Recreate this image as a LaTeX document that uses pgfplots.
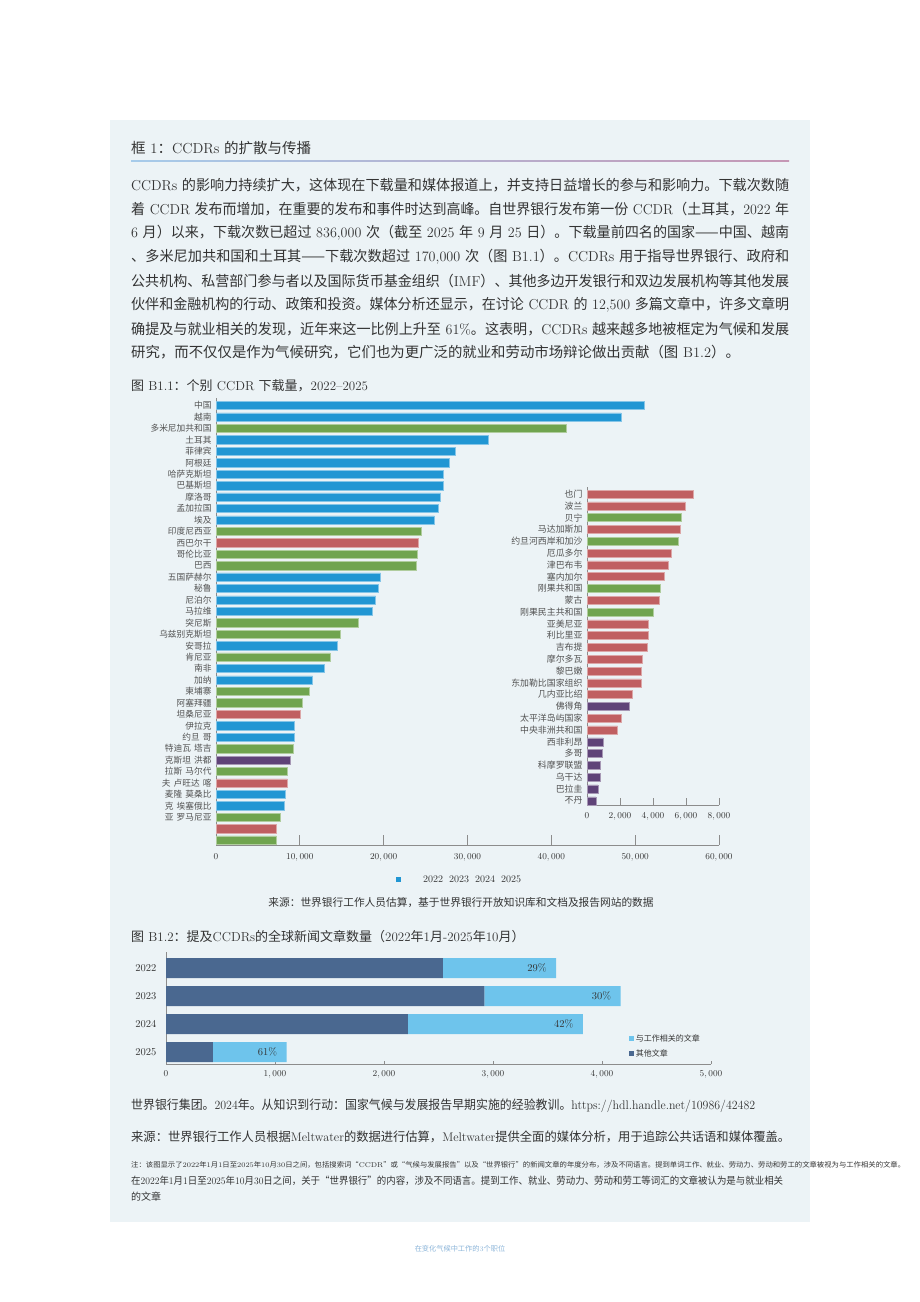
\documentclass[border=0pt]{standalone}
\usepackage{pgfplots}
\pgfplotsset{compat=1.18}
\usepackage{fontspec}
\usepackage{graphicx}
\newfontfamily\cjk{Noto Sans CJK SC}

% Han characters and full-width punctuation switch to the CJK face automatically
\newcount\cjkcode
\def\cjkrange#1#2{\cjkcode=#1\relax
  \loop\XeTeXcharclass\cjkcode=1 \advance\cjkcode by 1
  \ifnum\cjkcode<#2\repeat}
\cjkrange{"4E00}{"A000}
\cjkrange{"3000}{"3040}
\cjkrange{"FF00}{"FF20}
\XeTeXcharclass"2014=1
\XeTeXcharclass"201C=1
\XeTeXcharclass"201D=1
\XeTeXinterchartokenstate=1
\XeTeXinterchartoks 0 1 = {\cjk}
\XeTeXinterchartoks 4095 1 = {\cjk}
\XeTeXinterchartoks 1 0 = {\rmfamily}
\XeTeXinterchartoks 1 4095 = {\rmfamily}

\definecolor{bgbox}{HTML}{ECF3F6}
\definecolor{y22}{HTML}{2196D3}
\definecolor{y23}{HTML}{70A44F}
\definecolor{y24}{HTML}{C05F61}
\definecolor{y25}{HTML}{5F4378}
\definecolor{other}{HTML}{4A6890}
\definecolor{jobs}{HTML}{6EC4EC}
\definecolor{txt}{HTML}{333333}
\definecolor{axisgrey}{HTML}{8C8C8C}
\definecolor{foot}{HTML}{8DB6DA}
\definecolor{rulea}{HTML}{A6CBEA}
\definecolor{ruleb}{HTML}{EBCA9C}
\definecolor{rulec}{HTML}{C597B5}

\newcommand{\fs}[1]{\fontsize{#1}{#1}\selectfont}
\pgfplotsset{thousands/.style={/pgf/number format/fixed, /pgf/number format/1000 sep={{,}}}}

\begin{document}
\begin{tikzpicture}
\path[use as bounding box, fill=white] (0,0) rectangle (920pt,-1302pt);

\begin{scope}[x=1pt,y=-1pt]
  \fill[bgbox] (110,120) rectangle (810,1222);
  \shade[left color=rulea, middle color=ruleb, right color=rulec] (131,160.2) rectangle (789,161.8);
\end{scope}

% ---------------- B1.1: downloads by CCDR ----------------
\begin{axis}[
  at={(216pt,-845pt)}, anchor=south west,
  scale only axis, width=503pt, height=447pt,
  xmin=0, xmax=60000, ymin=0.57, ymax=39.66,
  xbar, bar width=8.3pt, bar shift=0pt,
  axis lines*=left,
  axis line style={draw=axisgrey, line width=0.8pt},
  tick align=inside, major tick length=10pt,
  xtick={0,10000,20000,30000,40000,50000,60000}, scaled x ticks=false,
  x tick style={draw=axisgrey, line width=0.8pt},
  xticklabel style={font=\fs{9.5}, text=txt, yshift=-5pt, thousands},
  ytick={3,...,39}, y tick style={draw=none},
  yticklabels={亚 罗马尼亚,克 埃塞俄比,麦隆 莫桑比,夫 卢旺达 喀,拉斯 马尔代,克斯坦 洪都,特迪瓦 塔吉,约旦 哥,
    伊拉克,坦桑尼亚,阿塞拜疆,柬埔寨,加纳,南非,肯尼亚,安哥拉,乌兹别克斯坦,突尼斯,马拉维,尼泊尔,秘鲁,
    五国萨赫尔,巴西,哥伦比亚,西巴尔干,印度尼西亚,埃及,孟加拉国,摩洛哥,巴基斯坦,哈萨克斯坦,阿根廷,
    菲律宾,土耳其,多米尼加共和国,越南,中国},
  yticklabel style={font=\fs{8.7}, text=txt!85!white, xshift=-1pt},
]
% 2022
\addplot[fill=y22, draw=y22!55!white, line width=0.5pt] coordinates {
  (51100,39) (48320,38) (32500,36) (28550,35) (27830,34) (27140,33) (27100,32)
  (26780,31) (26540,30) (26050,29) (19650,24) (19370,23) (19050,22) (18690,21)
  (14460,18) (12930,16) (11520,15) (9380,11) (9340,10) (8210,5) (8090,4)};
% 2023
\addplot[fill=y23, draw=y23!55!white, line width=0.5pt] coordinates {
  (41720,37) (24520,28) (23960,26) (23920,25) (16910,20) (14780,19) (13610,17)
  (11150,14) (10230,13) (9220,9) (8540,7) (7650,3) (7210,1)};
% 2024
\addplot[fill=y24, draw=y24!55!white, line width=0.5pt] coordinates {
  (24160,27) (10030,12) (8500,6) (7210,2)};
% 2025
\addplot[fill=y25, draw=y25!55!white, line width=0.5pt] coordinates {
  (8860,8)};
\end{axis}

% ---------------- B1.1 inset: smaller CCDRs ----------------
\begin{axis}[
  at={(587pt,-805pt)}, anchor=south west,
  scale only axis, width=132pt, height=318pt,
  xmin=0, xmax=8000, ymin=0.64, ymax=27.6,
  xbar, bar width=8pt, bar shift=0pt,
  axis lines*=left,
  axis line style={draw=axisgrey, line width=0.8pt},
  tick align=inside, major tick length=7pt,
  xtick={0,2000,4000,6000,8000}, scaled x ticks=false,
  x tick style={draw=axisgrey, line width=0.8pt},
  xticklabel style={font=\fs{9.5}, text=txt, yshift=-4pt, thousands},
  ytick={1,...,27}, y tick style={draw=none},
  yticklabels={不丹,巴拉圭,乌干达,科摩罗联盟,多哥,西非利昂,中央非洲共和国,太平洋岛屿国家,佛得角,
    几内亚比绍,东加勒比国家组织,黎巴嫩,摩尔多瓦,吉布提,利比里亚,亚美尼亚,刚果民主共和国,蒙古,
    刚果共和国,塞内加尔,津巴布韦,厄瓜多尔,约旦河西岸和加沙,马达加斯加,贝宁,波兰,也门},
  yticklabel style={font=\fs{8.9}, text=txt!85!white, xshift=-1pt},
]
\addplot[fill=y23, draw=y23!55!white, line width=0.5pt] coordinates {
  (5720,25) (5560,23) (4420,19) (4000,17)};
\addplot[fill=y24, draw=y24!55!white, line width=0.5pt] coordinates {
  (6440,27) (5960,26) (5660,24) (5080,22) (4900,21) (4700,20) (4380,18)
  (3700,16) (3700,15) (3680,14) (3320,13) (3300,12) (3280,11) (2760,10)
  (2060,8) (1860,7)};
\addplot[fill=y25, draw=y25!55!white, line width=0.5pt] coordinates {
  (2560,9) (980,6) (940,5) (780,4) (780,3) (660,2) (540,1)};
\end{axis}

% ---------------- B1.2: news articles mentioning CCDRs ----------------
\begin{axis}[
  at={(166pt,-1064pt)}, anchor=south west,
  scale only axis, width=545pt, height=112pt,
  xmin=0, xmax=5000, ymin=0.571, ymax=4.571,
  xbar stacked, bar width=20pt,
  axis lines*=left,
  axis line style={draw=axisgrey, line width=0.8pt},
  tick align=inside, major tick length=3pt,
  xtick={0,1000,2000,3000,4000,5000}, scaled x ticks=false,
  x tick style={draw=axisgrey, line width=0.8pt},
  xticklabel style={font=\fs{9.5}, text=txt, yshift=-3pt, thousands},
  ytick={1,2,3,4}, yticklabels={2025,2024,2023,2022}, y tick style={draw=none},
  yticklabel style={font=\fs{10.5}, text=txt, xshift=-6pt},
  legend style={at={(0.843,0.30)}, anchor=north west, draw=none, fill=none,
    font=\fs{8}, text=txt, row sep=2.5pt},
  legend cell align=left, reverse legend,
  legend image code/.code={\fill[#1] (0pt,-2.6pt) rectangle (5.2pt,2.6pt);},
]
\addplot[fill=other, draw=none] coordinates {
  (2540,4) (2920,3) (2220,2) (430,1)};
% share labels sit just inside the end of each job-related segment
\addplot[fill=jobs, draw=none,
  visualization depends on={rawx \as \segw},
  nodes near coords, point meta=explicit symbolic,
  nodes near coords style={anchor=east, xshift={0.0545*\segw*1pt-6pt}, font=\fs{10.5}, text=txt}]
  coordinates {(1040,4) [29\%] (1250,3) [30\%] (1605,2) [42\%] (677,1) [61\%]};
\legend{其他文章,与工作相关的文章}
\end{axis}

% ---------------- text ----------------
\begin{scope}[x=1pt,y=-1pt, every node/.style={inner sep=0pt, text=txt}]
  \node[anchor=west, font=\fs{14.5}] at (131,148) {框 1：CCDRs 的扩散与传播};

  \node[anchor=west, font=\fs{14.4}] at (131,185) {\resizebox{658pt}{\height}{CCDRs 的影响力持续扩大，这体现在下载量和媒体报道上，并支持日益增长的参与和影响力。下载次数随}};
  \node[anchor=west, font=\fs{14.4}] at (131,209) {\resizebox{658pt}{\height}{着 CCDR 发布而增加，在重要的发布和事件时达到高峰。自世界银行发布第一份 CCDR（土耳其，2022 年}};
  \node[anchor=west, font=\fs{14.4}] at (131,233) {\resizebox{658pt}{\height}{6 月）以来，下载次数已超过 836,000 次（截至 2025 年 9 月 25 日）。下载量前四名的国家——中国、越南}};
  \node[anchor=west, font=\fs{14.4}] at (131,257) {\resizebox{658pt}{\height}{、多米尼加共和国和土耳其——下载次数超过 170,000 次（图 B1.1）。CCDRs 用于指导世界银行、政府和}};
  \node[anchor=west, font=\fs{14.4}] at (131,281) {\resizebox{658pt}{\height}{公共机构、私营部门参与者以及国际货币基金组织（IMF）、其他多边开发银行和双边发展机构等其他发展}};
  \node[anchor=west, font=\fs{14.4}] at (131,305) {\resizebox{658pt}{\height}{伙伴和金融机构的行动、政策和投资。媒体分析还显示，在讨论 CCDR 的 12,500 多篇文章中，许多文章明}};
  \node[anchor=west, font=\fs{14.4}] at (131,329) {\resizebox{658pt}{\height}{确提及与就业相关的发现，近年来这一比例上升至 61\%。这表明，CCDRs 越来越多地被框定为气候和发展}};
  \node[anchor=west, font=\fs{14.4}] at (131,352) {研究，而不仅仅是作为气候研究，它们也为更广泛的就业和劳动市场辩论做出贡献（图 B1.2）。};

  \node[anchor=west, font=\fs{13}] at (131,386) {图 B1.1：个别 CCDR 下载量，2022–2025};

  % legend of B1.1
  \fill[y22] (395.5,876.5) rectangle (400.5,881.5);
  \node[anchor=west, font=\fs{10}] at (423,879) {2022\hspace{6pt}2023\hspace{6pt}2024\hspace{6pt}2025};
  \node[font=\fs{10.7}] at (461,903) {来源：世界银行工作人员估算，基于世界银行开放知识库和文档及报告网站的数据};

  \node[anchor=west, font=\fs{13}] at (131,937) {图 B1.2：提及CCDRs的全球新闻文章数量（2022年1月-2025年10月）};

  \node[anchor=west, font=\fs{12.5}] at (131,1106) {\resizebox{624pt}{\height}{世界银行集团。2024年。从知识到行动：国家气候与发展报告早期实施的经验教训。https://hdl.handle.net/10986/42482}};
  \node[anchor=west, font=\fs{12.5}] at (131,1137) {\resizebox{659pt}{\height}{来源：世界银行工作人员根据Meltwater的数据进行估算，Meltwater提供全面的媒体分析，用于追踪公共话语和媒体覆盖。}};
  \node[anchor=west, font=\fs{7}] at (131,1165) {\resizebox{774pt}{\height}{注：该图显示了2022年1月1日至2025年10月30日之间，包括搜索词“CCDR”或“气候与发展报告”以及“世界银行”的新闻文章的年度分布，涉及不同语言。提到单词工作、就业、劳动力、劳动和劳工的文章被视为与工作相关的文章。}};
  \node[anchor=west, font=\fs{10}] at (131,1181) {\resizebox{652pt}{\height}{在2022年1月1日至2025年10月30日之间，关于“世界银行”的内容，涉及不同语言。提到工作、就业、劳动力、劳动和劳工等词汇的文章被认为是与就业相关}};
  \node[anchor=west, font=\fs{10}] at (131,1197) {的文章};

  \node[font=\fs{7.2}, text=foot] at (460,1249) {在变化气候中工作的3个职位};
\end{scope}
\end{tikzpicture}
\end{document}
